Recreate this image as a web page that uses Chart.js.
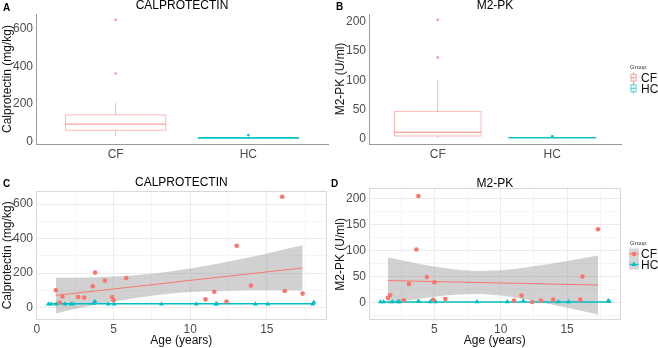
<!DOCTYPE html>
<html lang="en">
<head>
<meta charset="UTF-8" />
<title>Calprotectin and M2-PK, CF vs HC</title>
<style>
  * { margin: 0; padding: 0; }
  body { width: 658px; height: 348px; background: #fff; overflow: hidden; position: relative; }
  canvas { position: absolute; left: 0; top: 0; }
</style>
</head>
<body>
<canvas id="chartA" width="658" height="348"></canvas>
<canvas id="chartB" width="658" height="348"></canvas>
<canvas id="chartC" width="658" height="348"></canvas>
<canvas id="chartD" width="658" height="348"></canvas>

<script src="https://cdn.jsdelivr.net/npm/chart.js"></script>
<script>
// ---- data ----
const groups = ["CF", "HC"];

// box stats: [lower whisker, q1, median, q3, upper whisker]
const calBoxCF = [30, 62, 94, 143, 205];
const calBoxHC = [19, 20, 21, 23, 25];
const calOutCF = [362, 646];
const calOutHC = [36];
const m2pkBoxCF = [1, 4, 10.5, 46, 100.5];
const m2pkBoxHC = [0.5, 0.8, 1, 1.3, 2];
const m2pkOutCF = [139, 204];
const m2pkOutHC = [3.5];

// scatter panels
const cfAge = [1.24, 1.5, 1.67, 2.7, 3.09, 3.65, 3.8, 4.44, 4.91, 5.0, 5.83, 11.0, 11.57, 12.37, 13.03, 13.96, 16.0, 16.16, 17.33];
const cfCal = [101, 29, 65, 61, 58, 124, 203, 157, 61, 42, 171, 48, 92, 35, 359, 128, 643, 96, 81];
const cfM2pk = [null, 8.5, 13.6, 3.9, 35.6, 102, 205, 49, 5, 38.8, 6.5, 3.3, 13, 0.8, 3.3, 5.2, 5.2, 50, 141];

const hcAgeC = [0.76, 0.93, 1.26, 1.84, 2.23, 2.38, 3.69, 3.79, 4.66, 5.05, 8.13, 10.4, 11.67, 11.75, 14.25, 15.07, 18.0, 18.06];
const hcCal = [20, 20, 20, 20, 20, 22, 25, 35, 20, 20, 20, 20, 20, 22, 20, 20, 20, 30];
const hcAgeD = [0.94, 1.19, 1.84, 2.27, 2.39, 3.77, 3.84, 4.7, 5.1, 8.2, 10.5, 11.7, 14.35, 15.1, 18.1, 18.18];
const hcM2pk = [1, 1, 1, 1, 1, 1.5, 1.5, 1, 1, 1, 1, 3, 1, 1, 3, 1.5];

// linear fits + 95% band (CF), read at a few ages
const calFitX = [1.24, 3, 5, 7.86, 10, 12.5, 15, 17.33];
const calFitCF = [71, 88, 108, 136, 158, 182, 207, 230];
const calLowCF = [-35, 2, 36, 73, 90, 98, 100, 99];
const calHighCF = [173, 174, 180, 199, 226, 267, 314, 361];
const calFitHC = [22, 22];

const m2pkFitX = [1.5, 3, 5, 8.22, 10, 12.5, 15, 17.33];
const m2pkFitCF = [42, 41.2, 40.1, 38.4, 37.4, 36.1, 34.7, 33.5];
const m2pkLowCF = [-3, 3.6, 11, 16, 13, 2.7, -10.6, -23.5];
const m2pkHighCF = [87, 78.8, 69, 60.6, 62, 69.5, 80, 90.5];
const m2pkFitHC = [0.8, 0.8];

// ticks
const calTicks = [0, 200, 400, 600];
const calMinor = [100, 300, 500];
const m2pkTicks = [0, 50, 100, 150, 200];
const m2pkMinor = [-25, 25, 75, 125, 175];
const ageTicks = [0, 5, 10, 15];
const ageMinor = [2.5, 7.5, 12.5, 17.5];

// ---- styling ----
const family = "'Liberation Sans', Arial, sans-serif";
const CF = "#F8766D";
const HC = "#00BFC4";
const tickFont = { family, size: 12 };
const tickColor = "#4d4d4d";

const pts = (xs, ys) => xs.map((x, i) => ({ x, y: ys[i] })).filter(p => p.y !== null);

function yAxis(min, max, ticks, minor, title, boxed) {
  return {
    min, max,
    afterFit(s) { s.width = 36; },
    afterBuildTicks(s) { s.ticks = ticks.concat(minor).sort((a, b) => a - b).map(v => ({ value: v })); },
    ticks: { font: tickFont, color: tickColor, padding: 3, autoSkip: false,
      callback: v => (ticks.includes(v) ? v : "") },
    grid: boxed
      ? { drawTicks: false, color: c => (ticks.includes(c.tick.value) ? "#ebebeb" : "#f5f5f5") }
      : { display: false, drawTicks: false },
    border: boxed ? { display: false } : { display: true, color: "#9a9a9a", width: 1 },
    title: { display: true, text: title, font: { family, size: 12 }, color: "#111", padding: 0 }
  };
}

function ageAxis(min, max, height) {
  return {
    type: "linear", min, max,
    afterFit(s) { s.height = height; },
    afterBuildTicks(s) { s.ticks = ageTicks.concat(ageMinor).filter(v => v >= min && v <= max).sort((a, b) => a - b).map(v => ({ value: v })); },
    ticks: { font: tickFont, color: tickColor, padding: 2, autoSkip: false, maxRotation: 0,
      callback: v => (ageTicks.includes(v) ? v : "") },
    grid: { drawTicks: false, color: c => (ageTicks.includes(c.tick.value) ? "#ebebeb" : "#f5f5f5") },
    border: { display: false },
    title: { display: true, text: "Age (years)", font: { family, size: 12 }, color: "#111", padding: 0 }
  };
}

function groupAxis() {
  return {
    type: "linear", min: 0.4, max: 2.6,
    afterFit(s) { s.height = 30; },
    afterBuildTicks(s) { s.ticks = [1, 2].map(v => ({ value: v })); },
    ticks: { font: tickFont, color: tickColor, padding: 3, callback: v => groups[v - 1] },
    grid: { display: false, drawTicks: false },
    border: { display: true, color: "#9a9a9a", width: 1 }
  };
}

// box plot drawn through the chart scales
function boxPlot(boxes) {
  return {
    id: "boxPlot",
    beforeDatasetsDraw(chart) {
      const { ctx, scales: { x, y } } = chart;
      boxes.forEach(b => {
        const [lo, q1, med, q3, hi] = b.stats;
        const xc = x.getPixelForValue(b.pos);
        const xl = x.getPixelForValue(b.pos - 0.378);
        const xr = x.getPixelForValue(b.pos + 0.378);
        ctx.save();
        ctx.lineWidth = 1;
        ctx.strokeStyle = b.line;
        ctx.beginPath();
        ctx.moveTo(xc, y.getPixelForValue(hi)); ctx.lineTo(xc, y.getPixelForValue(q3));
        ctx.moveTo(xc, y.getPixelForValue(q1)); ctx.lineTo(xc, y.getPixelForValue(lo));
        ctx.stroke();
        const top = y.getPixelForValue(q3), bot = y.getPixelForValue(q1);
        ctx.strokeRect(xl, top, xr - xl, bot - top);
        ctx.strokeStyle = b.med;
        ctx.beginPath();
        ctx.moveTo(xl, y.getPixelForValue(med)); ctx.lineTo(xr, y.getPixelForValue(med));
        ctx.stroke();
        ctx.restore();
      });
    }
  };
}

// titles, panel letters, legends
function annotations(items, extra) {
  return {
    id: "annotations",
    afterDraw(chart) {
      const { ctx, chartArea: a } = chart;
      ctx.save();
      items.forEach(t => {
        ctx.font = `${t.bold ? "bold " : ""}${t.size || 12}px ${family}`;
        ctx.fillStyle = t.color || "#000";
        ctx.textAlign = t.align || "left";
        ctx.textBaseline = "alphabetic";
        ctx.fillText(t.text, t.x === "center" ? (a.left + a.right) / 2 : t.x, t.y);
      });
      if (extra) extra(ctx);
      ctx.restore();
    }
  };
}

const panelBorder = {
  id: "panelBorder",
  afterDatasetsDraw(chart) {
    const { ctx, chartArea: a } = chart;
    ctx.save();
    ctx.strokeStyle = "#d9d9d9";
    ctx.lineWidth = 1;
    ctx.strokeRect(Math.round(a.left) + 0.5, Math.round(a.top) + 0.5, Math.round(a.width) - 1, Math.round(a.height) - 1);
    ctx.restore();
  }
};

function triangle(ctx, x, y, r) {
  ctx.beginPath();
  ctx.moveTo(x, y - r);
  ctx.lineTo(x + r * 0.95, y + r * 0.6);
  ctx.lineTo(x - r * 0.95, y + r * 0.6);
  ctx.closePath();
  ctx.fill();
}

function boxKeys(ctx) {
  [[groups[0], CF, 77.7], [groups[1], HC, 88.3]].forEach(([label, col, cy]) => {
    const cx = 633.5;
    ctx.strokeStyle = col;
    ctx.globalAlpha = 0.7;
    ctx.lineWidth = 1;
    ctx.beginPath(); ctx.moveTo(cx, cy - 5.5); ctx.lineTo(cx, cy + 5.5); ctx.stroke();
    ctx.fillStyle = "#fff";
    ctx.fillRect(cx - 2.5, cy - 3.5, 5, 7);
    ctx.strokeRect(cx - 2.5, cy - 3.5, 5, 7);
    ctx.beginPath(); ctx.moveTo(cx - 2.5, cy); ctx.lineTo(cx + 2.5, cy); ctx.stroke();
    ctx.globalAlpha = 1;
    ctx.fillStyle = "#111";
    ctx.font = `12px ${family}`;
    ctx.textAlign = "left";
    ctx.fillText(label, 641, cy + 4.3);
  });
}

function pointKeys(ctx) {
  ctx.fillStyle = "#d6d6d6";
  ctx.fillRect(629, 248.5, 10, 21);
  [[groups[0], CF, 254], [groups[1], HC, 264.3]].forEach(([label, col, cy], i) => {
    ctx.strokeStyle = col;
    ctx.lineWidth = 1;
    ctx.beginPath(); ctx.moveTo(629, cy); ctx.lineTo(639, cy); ctx.stroke();
    ctx.fillStyle = col;
    if (i === 0) { ctx.beginPath(); ctx.arc(634, cy, 2.3, 0, Math.PI * 2); ctx.fill(); }
    else triangle(ctx, 634, cy, 2.8);
    ctx.fillStyle = "#111";
    ctx.font = `12px ${family}`;
    ctx.textAlign = "left";
    ctx.fillText(label, 641, cy + 4.3);
  });
}

const base = {
  responsive: false,
  animation: false,
  events: [],
  plugins: { legend: { display: false }, tooltip: { enabled: false } }
};

const outlier = (pos, vals, col) => ({
  data: vals.map(v => ({ x: pos, y: v })),
  showLine: false, pointRadius: 1.3, pointBorderWidth: 0, pointBackgroundColor: col
});

// ---- A: calprotectin box plot ----
new Chart(document.getElementById("chartA"), {
  type: "line",
  data: { datasets: [outlier(1, calOutCF, "rgba(248,118,109,0.8)"), outlier(2, calOutHC, HC)] },
  options: {
    ...base,
    layout: { padding: { left: 0, top: 14, right: 330, bottom: 174 } },
    scales: { x: groupAxis(), y: yAxis(-11, 677, calTicks, [], "Calprotectin (mg/kg)", false) }
  },
  plugins: [
    boxPlot([
      { pos: 1, stats: calBoxCF, line: "rgba(248,118,109,0.5)", med: "rgba(248,118,109,0.85)" },
      { pos: 2, stats: calBoxHC, line: "rgba(0,191,196,0.9)", med: HC }
    ]),
    annotations([
      { text: "A", x: 3, y: 10.5, bold: true, size: 10 },
      { text: "CALPROTECTIN", x: "center", y: 8.5, align: "center" }
    ])
  ]
});

// ---- B: M2-PK box plot ----
new Chart(document.getElementById("chartB"), {
  type: "line",
  data: { datasets: [outlier(1, m2pkOutCF, "rgba(248,118,109,0.8)"), outlier(2, m2pkOutHC, HC)] },
  options: {
    ...base,
    layout: { padding: { left: 333, top: 14, right: 37, bottom: 174 } },
    scales: { x: groupAxis(), y: yAxis(-9.8, 214, m2pkTicks, [], "M2-PK (U/ml)", false) }
  },
  plugins: [
    boxPlot([
      { pos: 1, stats: m2pkBoxCF, line: "rgba(248,118,109,0.5)", med: "rgba(248,118,109,0.85)" },
      { pos: 2, stats: m2pkBoxHC, line: "rgba(0,191,196,0.9)", med: HC }
    ]),
    annotations([
      { text: "B", x: 336, y: 10.2, bold: true, size: 10 },
      { text: "M2-PK", x: "center", y: 9, align: "center" },
      { text: "Group", x: 630, y: 68.8, size: 6, color: "#333" }
    ], boxKeys)
  ]
});

// ---- scatter + fit panels ----
function scatterSets(ageCF, valCF, ageHC, valHC, fitX, fit, low, high, fitHC) {
  const band = "rgba(153,153,153,0.45)";
  return [
    { data: pts(ageCF, valCF), showLine: false, pointRadius: 2.3, pointBorderWidth: 0, pointBackgroundColor: CF },
    { data: pts(ageHC, valHC), showLine: false, pointStyle: "triangle", pointRadius: 2.9, pointBorderWidth: 0, pointBackgroundColor: HC },
    { data: pts([Math.min(...ageHC), Math.max(...ageHC)], fitHC), borderColor: HC, borderWidth: 1.6, pointRadius: 0, fill: false },
    { data: pts(fitX, fit), borderColor: CF, borderWidth: 1, pointRadius: 0, fill: false },
    { data: pts(fitX, high), borderWidth: 0, borderColor: "rgba(0,0,0,0)", pointRadius: 0, cubicInterpolationMode: "monotone", fill: "+1", backgroundColor: band },
    { data: pts(fitX, low), borderWidth: 0, borderColor: "rgba(0,0,0,0)", pointRadius: 0, cubicInterpolationMode: "monotone", fill: false }
  ];
}

// ---- C: calprotectin vs age ----
new Chart(document.getElementById("chartC"), {
  type: "line",
  data: { datasets: scatterSets(cfAge, cfCal, hcAgeC, hcCal, calFitX, calFitCF, calLowCF, calHighCF, calFitHC) },
  options: {
    ...base,
    layout: { padding: { left: 0, top: 190.7, right: 331.3, bottom: 0 } },
    scales: { x: ageAxis(-0.05, 18.9, 28), y: yAxis(-72, 678, calTicks, calMinor, "Calprotectin (mg/kg)", true) }
  },
  plugins: [
    panelBorder,
    annotations([
      { text: "C", x: 3, y: 186.5, bold: true, size: 10 },
      { text: "CALPROTECTIN", x: "center", y: 186, align: "center" }
    ])
  ]
});

// ---- D: M2-PK vs age ----
new Chart(document.getElementById("chartD"), {
  type: "line",
  data: { datasets: scatterSets(cfAge, cfM2pk, hcAgeD, hcM2pk, m2pkFitX, m2pkFitCF, m2pkLowCF, m2pkHighCF, m2pkFitHC) },
  options: {
    ...base,
    layout: { padding: { left: 333, top: 188.3, right: 37.3, bottom: 0 } },
    scales: { x: ageAxis(0.08, 19.04, 27.5), y: yAxis(-35, 220, m2pkTicks, m2pkMinor, "M2-PK (U/ml)", true) }
  },
  plugins: [
    panelBorder,
    annotations([
      { text: "D", x: 331, y: 186.5, bold: true, size: 10 },
      { text: "M2-PK", x: "center", y: 186.5, align: "center" },
      { text: "Group", x: 630, y: 245, size: 6, color: "#333" }
    ], pointKeys)
  ]
});
</script>
</body>
</html>
